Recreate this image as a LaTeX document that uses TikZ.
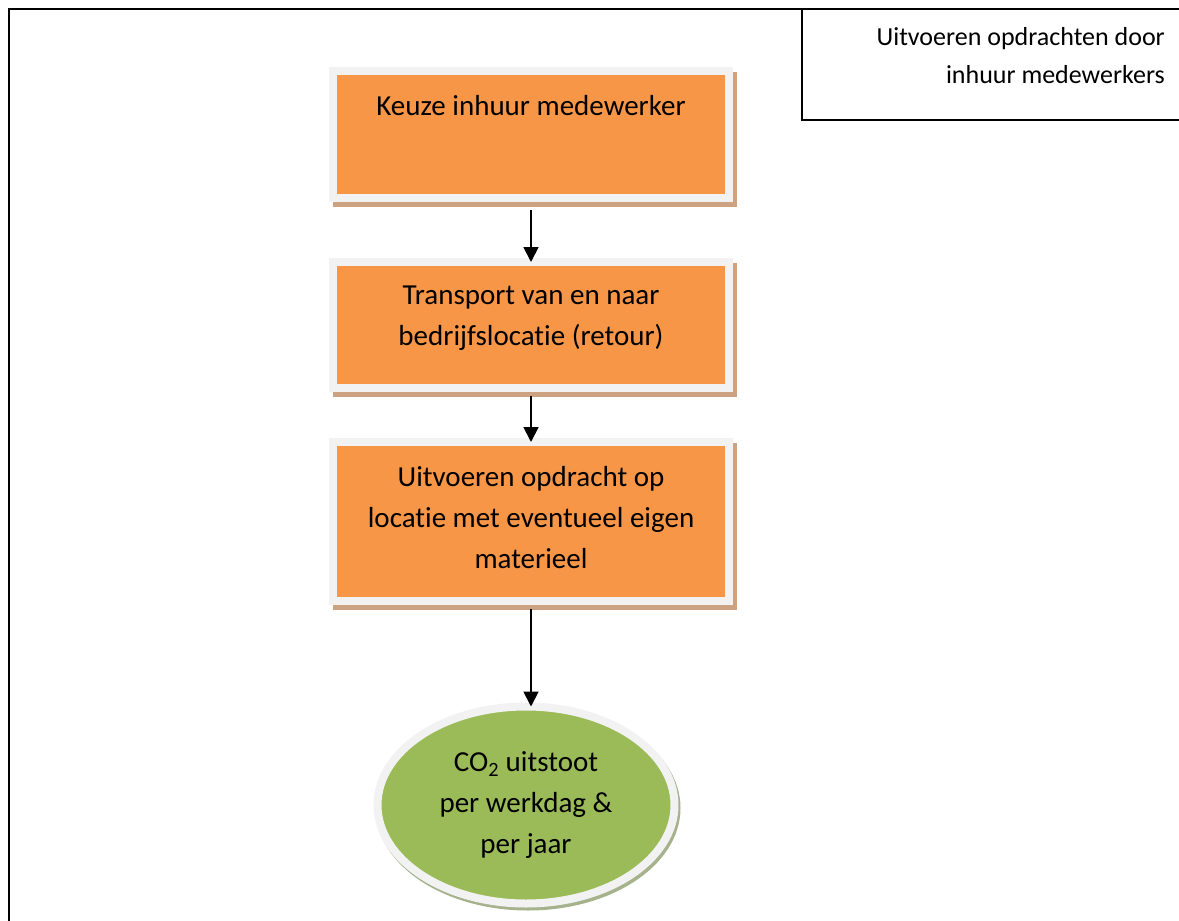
\documentclass[tikz,border=0pt]{standalone}
\usepackage{fontspec}
\setmainfont{Carlito}[Ligatures=NoCommon]
\usepackage{tikz}
\usetikzlibrary{shapes,arrows,positioning,calc,arrows.meta}

\definecolor{stapOranje}{HTML}{F79646}
\definecolor{stapRand}{HTML}{F2F2F2}
\definecolor{stapSchaduw}{RGB}{205,162,128}
\definecolor{uitGroen}{HTML}{9BBB59}
\definecolor{uitSchaduw}{RGB}{165,178,140}

% text at the top of a box
\newcommand{\staptekst}[2]{\parbox[c][#1][t]{396pt}{\centering\vspace*{24pt}#2}}

\begin{document}
\begin{tikzpicture}[x=1pt,y=-1pt,
    stap/.style={rectangle, fill=stapOranje, draw=stapRand, line width=8pt,
      inner sep=0pt, outer sep=0pt,
      preaction={draw=stapSchaduw, fill=stapSchaduw, line width=8pt,
        transform canvas={xshift=4pt,yshift=-5pt}},
      font=\fontsize{29}{41}\selectfont},
    uitkomst/.style={ellipse, fill=uitGroen, draw=stapRand, line width=8pt,
      minimum width=297pt, minimum height=197pt, inner sep=0pt, outer sep=0pt,
      align=center,
      preaction={draw=uitSchaduw, line width=8pt,
        transform canvas={xshift=2pt,yshift=-3pt}},
      font=\fontsize{29}{41}\selectfont},
    pijl/.style={-{Triangle[width=15pt,length=15pt]}, line width=1.8pt},
    kader/.style={line width=2pt}]
    \useasboundingbox (0,0) rectangle (1179,921);

    % Frame
    \draw[kader] (9,921) -- (9,9) -- (1179,9);
    \draw[line width=1.5pt] (802,9) -- (802,120) -- (1179,120);
    \node[anchor=north east, inner sep=0pt, align=right,
      font=\fontsize{26}{38}\selectfont] (titel) at (1165,27)
      {Uitvoeren opdrachten door\\inhuur medewerkers};

    % Steps
    \node[stap] (keuze) at (531,134.5)
      {\staptekst{127pt}{Keuze inhuur medewerker}};
    \node[stap] (transport) at (531,325)
      {\staptekst{126pt}{Transport van en naar\\bedrijfslocatie (retour)}};
    \node[stap] (uitvoeren) at (531,521.5)
      {\staptekst{159pt}{Uitvoeren opdracht op\\locatie met eventueel eigen\\materieel}};

    % Result
    \node[uitkomst] (co2) at (526,805)
      {CO\textsubscript{2} uitstoot\\per werkdag \&\\per jaar};

    % Arrows
    \draw[pijl, shorten <=12pt] (keuze.south) -- (transport.north);
    \draw[pijl, shorten <=8pt] (transport.south) -- (uitvoeren.north);
    \draw[pijl, shorten <=8pt] (uitvoeren.south) -- (uitvoeren.south |- co2.north);
\end{tikzpicture}
\end{document}
